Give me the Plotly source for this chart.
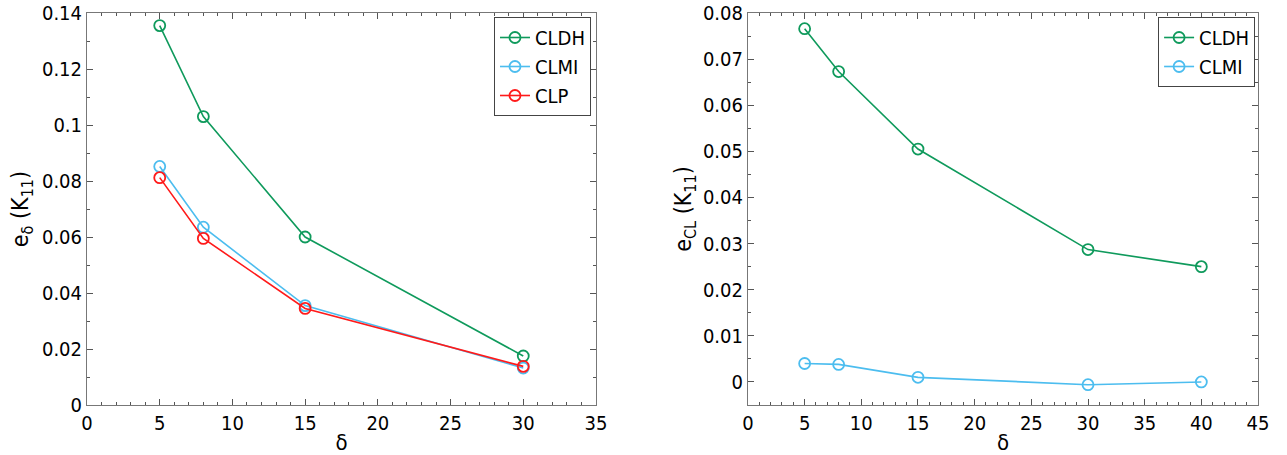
import plotly.graph_objects as go

# Left panel data
delta_left = [5, 8, 15, 30]
left_cldh = [0.1355, 0.1030, 0.0600, 0.0175]
left_clmi = [0.0852, 0.0635, 0.0355, 0.0132]
left_clp = [0.0812, 0.0595, 0.0345, 0.0138]

# Right panel data
delta_right = [5, 8, 15, 30, 40]
right_cldh = [0.0766, 0.0673, 0.0505, 0.0287, 0.0250]
right_clmi = [0.0040, 0.0038, 0.0010, -0.0006, 0.0000]

GREEN = "#0f9a5c"
BLUE = "#4cbdef"
RED = "#ff1a1a"
FONT = "DejaVu Sans Condensed, DejaVu Sans"

fig = go.Figure()

def add(x, y, name, color, xa, ya):
    fig.add_trace(go.Scatter(
        x=x, y=y, name=name, mode="lines+markers",
        line=dict(color=color, width=1.6),
        marker=dict(symbol="circle-open", size=11, color=color, line=dict(width=1.8, color=color)),
        xaxis=xa, yaxis=ya, showlegend=True, legend="legend" if xa == "x" else "legend2",
    ))

add(delta_left, left_cldh, "CLDH", GREEN, "x", "y")
add(delta_left, left_clmi, "CLMI", BLUE, "x", "y")
add(delta_left, left_clp, "CLP", RED, "x", "y")
add(delta_right, right_cldh, "CLDH", GREEN, "x2", "y2")
add(delta_right, right_clmi, "CLMI", BLUE, "x2", "y2")

axcommon = dict(
    showgrid=False, zeroline=False, showline=True, linecolor="#777777", linewidth=1,
    mirror="ticks", ticks="inside", ticklen=6, tickcolor="#555555",
    tickfont=dict(family=FONT, size=20, color="black"),
    automargin=False,
)

def minor(d):
    return dict(dtick=d, ticks="inside", ticklen=3, tickcolor="#555555")

fig.update_layout(
    width=1287, height=455,
    paper_bgcolor="white", plot_bgcolor="white",
    margin=dict(l=60, r=10, t=10, b=45, autoexpand=False),
    font=dict(family=FONT, color="black"),
    xaxis=dict(domain=[0.0222, 0.4404], range=[0, 35], dtick=5, minor=minor(1),
               title=dict(text="δ", font=dict(size=22), standoff=0), anchor="y", **axcommon),
    yaxis=dict(domain=[0.0125, 0.9925], range=[0, 0.14], dtick=0.02, tickformat="~g", minor=minor(0.01),
               title=dict(text="e<sub>δ</sub> (K<sub>11</sub>)", font=dict(size=23), standoff=6),
               anchor="x", **axcommon),
    xaxis2=dict(domain=[0.5653, 0.9844], range=[0, 45], dtick=5, minor=minor(1),
                title=dict(text="δ", font=dict(size=22), standoff=0), anchor="y2", **axcommon),
    yaxis2=dict(domain=[0.0125, 0.9925], range=[-0.005, 0.08], dtick=0.01, tickformat="~g", minor=minor(0.005),
                title=dict(text="e<sub>CL</sub> (K<sub>11</sub>)", font=dict(size=23), standoff=4),
                anchor="x2", **axcommon),
    legend=dict(x=0.4363, y=0.9825, xanchor="right", yanchor="top", bgcolor="white",
                bordercolor="#444444", borderwidth=1, font=dict(family=FONT, size=20),
                itemwidth=30, tracegroupgap=0),
    legend2=dict(x=0.982, y=0.9825, xanchor="right", yanchor="top", bgcolor="white",
                 bordercolor="#444444", borderwidth=1, font=dict(family=FONT, size=20),
                 itemwidth=30, tracegroupgap=0),
)

fig.write_html("out.html", post_script="document.body.style.margin='0';",
               config={"displayModeBar": False})
